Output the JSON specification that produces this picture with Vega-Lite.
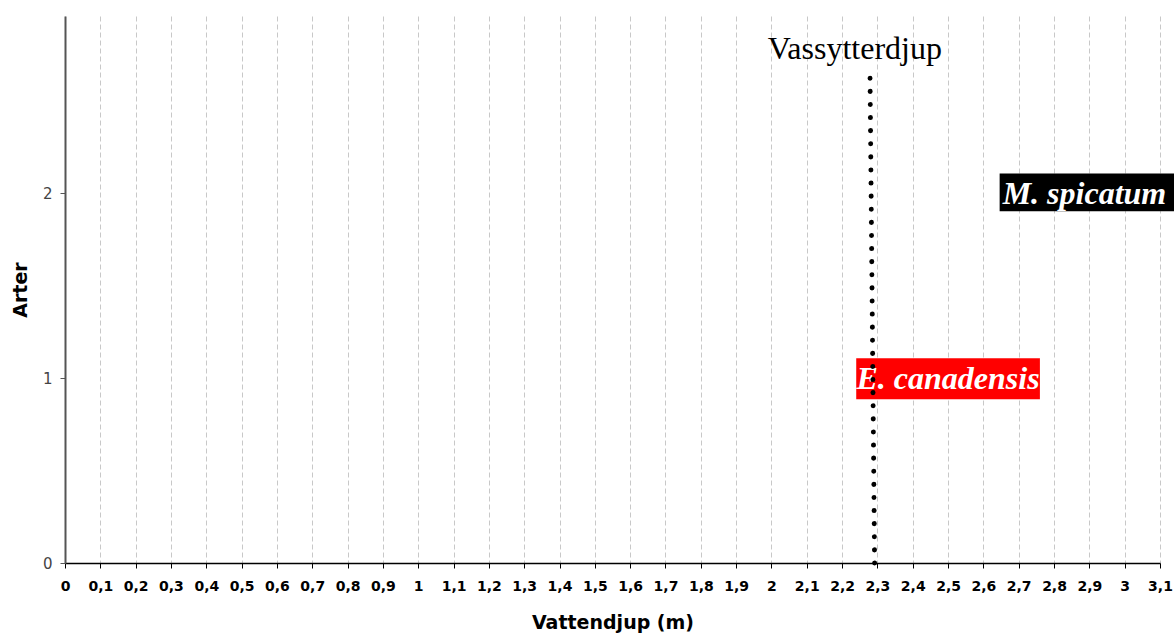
{
  "$schema": "https://vega.github.io/schema/vega-lite/v6.json",
  "autosize": {"type": "none"},
  "width": 1095,
  "height": 547,
  "padding": {"left": 65, "top": 16, "right": 14, "bottom": 77},
  "background": "white",
  "config": {"view": {"stroke": null}},
  "encoding": {
    "x": {"field": "x", "type": "quantitative",
      "scale": {"domain": [0, 3.1], "nice": false, "zero": false},
      "axis": {
        "values": [0,0.1,0.2,0.3,0.4,0.5,0.6,0.7,0.8,0.9,1,1.1,1.2,1.3,1.4,1.5,1.6,1.7,1.8,1.9,2,2.1,2.2,2.3,2.4,2.5,2.6,2.7,2.8,2.9,3,3.1],
        "labelExpr": "replace(toString(datum.value), '.', ',')",
        "title": "Vattendjup (m)",
        "titleFont": "DejaVu Sans", "titleFontSize": 19, "titleFontWeight": "bold", "titleColor": "#000",
        "titlePadding": 20,
        "labelFont": "DejaVu Sans", "labelFontSize": 14, "labelFontWeight": "bold", "labelColor": "#000",
        "labelPadding": 11, "labelFlush": false, "labelOverlap": false,
        "domainColor": "#000", "domainWidth": 1.5,
        "tickColor": "#000", "tickSize": 5,
        "grid": true, "gridColor": "#c8c8c8", "gridDash": [5, 3], "gridWidth": 1
      }},
    "y": {"field": "y", "type": "quantitative",
      "scale": {"domain": [0, 2.96], "nice": false, "zero": false},
      "axis": {
        "values": [0, 1, 2],
        "format": "d",
        "title": "Arter",
        "titleFont": "DejaVu Sans", "titleFontSize": 19, "titleFontWeight": "bold", "titleColor": "#000",
        "titlePadding": 12,
        "labelFont": "DejaVu Sans", "labelFontSize": 15, "labelColor": "#444",
        "labelPadding": 8,
        "domainColor": "#555", "domainWidth": 2,
        "tickColor": "#555", "tickSize": 5,
        "grid": false
      }}
  },
  "layer": [
    {
      "data": {"values": [
        {"label": "E. canadensis", "x": 2.24, "x2": 2.76, "y": 0.886, "y2": 1.108},
        {"label": "M. spicatum", "x": 2.646, "x2": 3.14, "y": 1.903, "y2": 2.108}
      ]},
      "mark": {"type": "rect"},
      "encoding": {
        "x2": {"field": "x2"},
        "y2": {"field": "y2"},
        "color": {"field": "label", "type": "nominal",
          "scale": {"domain": ["E. canadensis", "M. spicatum"], "range": ["#ff0000", "#000000"]},
          "legend": null}
      }
    },
    {
      "data": {"values": [
        {"label": "E. canadensis", "x": 2.5, "y": 1},
        {"label": "M. spicatum", "x": 2.886, "y": 2}
      ]},
      "mark": {"type": "text", "font": "Liberation Serif", "fontSize": 32, "fontWeight": "bold", "fontStyle": "italic", "color": "white", "baseline": "middle", "align": "center", "dy": 1},
      "encoding": {
        "text": {"field": "label"}
      }
    },
    {
      "data": {"values": [
        {"label": "Vassytterdjup", "x": 2.236, "y": 2.78}
      ]},
      "mark": {"type": "text", "font": "Liberation Serif", "fontSize": 32, "color": "black", "baseline": "middle", "align": "center"},
      "encoding": {
        "text": {"field": "label"}
      }
    },
    {
      "data": {"values": [
        {"x": 2.279, "y": 2.64},
        {"x": 2.292, "y": 0}
      ]},
      "mark": {"type": "line", "color": "black", "strokeWidth": 5, "strokeCap": "round", "strokeDash": [0.1, 13]},
      "encoding": {
        "order": {"field": "y", "type": "quantitative"}
      }
    }
  ]
}
